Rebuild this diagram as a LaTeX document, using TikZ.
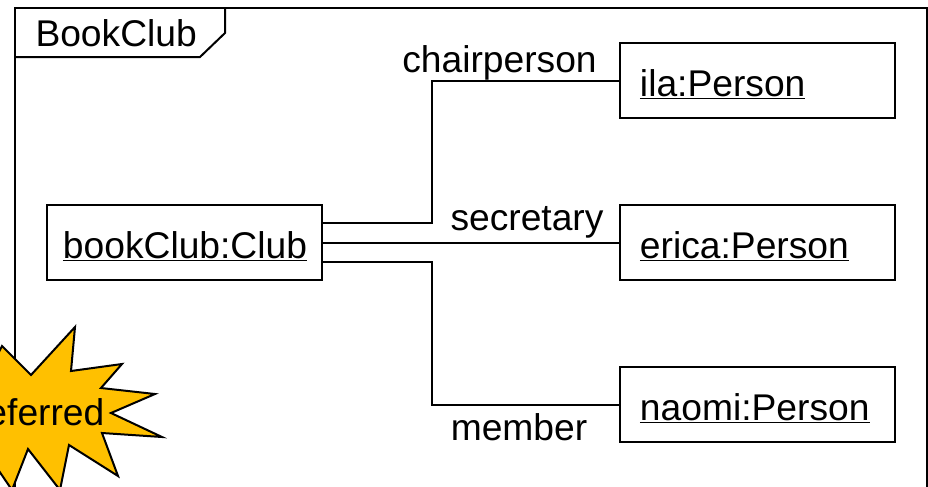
\documentclass[tikz,border=0pt]{standalone}
\usepackage{fontspec}
\setmainfont{Liberation Sans}
\usepackage{tikz}
\usetikzlibrary{%
	matrix,%
	calc%
}
\definecolor{burst}{RGB}{255,192,0}
\tikzset{
	diagram/.style={x=.75pt,y=-.75pt,line width=1.5pt,font=\fontsize{27.9}{32}\selectfont},
	instance/.style={draw,anchor=center,minimum width=206.25pt,minimum height=56.25pt,text width=176.25pt,text height=26.25pt,text depth=3pt,inner sep=0pt,align=left},
	rolename/.style={anchor=base,inner sep=0pt}
}

\begin{document}
\begin{tikzpicture}[diagram]
	\clip (0,0) rectangle (928,486);
	\useasboundingbox (0,0) rectangle (928,486);
	\matrix[matrix of nodes,column sep={429.75pt,between origins},row
	sep={121.5pt,between origins},nodes={instance}] (s) at (471,242.5)
	{
		&|[name=ila]| \underline{ila:Person} \\
		%
		|[name=bookClub,text width=182.25pt]| \underline{bookClub:Club} &|[name=erica]| \underline{erica:Person} \\
		%
		&|[name=naomi]| \underline{naomi:Person} \\
	};
	\coordinate (frameBL) at (15,500);
	\coordinate (frameTL) at (15,8);
	\coordinate (frameTR) at (927,8);
	\coordinate (frameBR) at (927,500);
	\coordinate (tabB) at (15,57);
	\coordinate (tabC) at (200,57);
	\coordinate (tabD) at (225,33);
	\coordinate (tabE) at (225,8);
	\draw (frameBL) -- (frameTL) -- (frameTR) -- (frameBR);
	\draw (tabB) -- (tabC) -- (tabD) -- (tabE);
	\node[anchor=base west,inner sep=0pt] (clubName) at (34.5,46) {BookClub};
	\draw ($(bookClub.east)+(0,14.6pt)$) -- ++(82pt,0) |- (ila.west);
	\draw (bookClub.east) -- (erica.west);
	\draw ($(bookClub.east)+(0,-14.6pt)$) -- ++(82pt,0) |- (naomi.west);
	\node[rolename] (chairperson) at (499.5,72) {chairperson};
	\node[rolename] (secretary) at (527,230) {secretary};
	\node[rolename] (member) at (519,440) {member};
	% burst runs off the left and bottom of the page
	\draw[fill=burst,miter limit=20] (2,346) -- (31,375) -- (75,327) -- (71,371) -- (122,364)
	-- (101,388) -- (155,394) -- (111,413) -- (162,437) -- (102,433)
	-- (118,476) -- (69,445) -- (60,490) -- (28,449) -- (12,490)
	-- (-20,443) -- (-60,400) -- (-10,370) -- cycle;
	\node[rolename] (deferred) at (32,425) {Deferred};
\end{tikzpicture}
\end{document}
